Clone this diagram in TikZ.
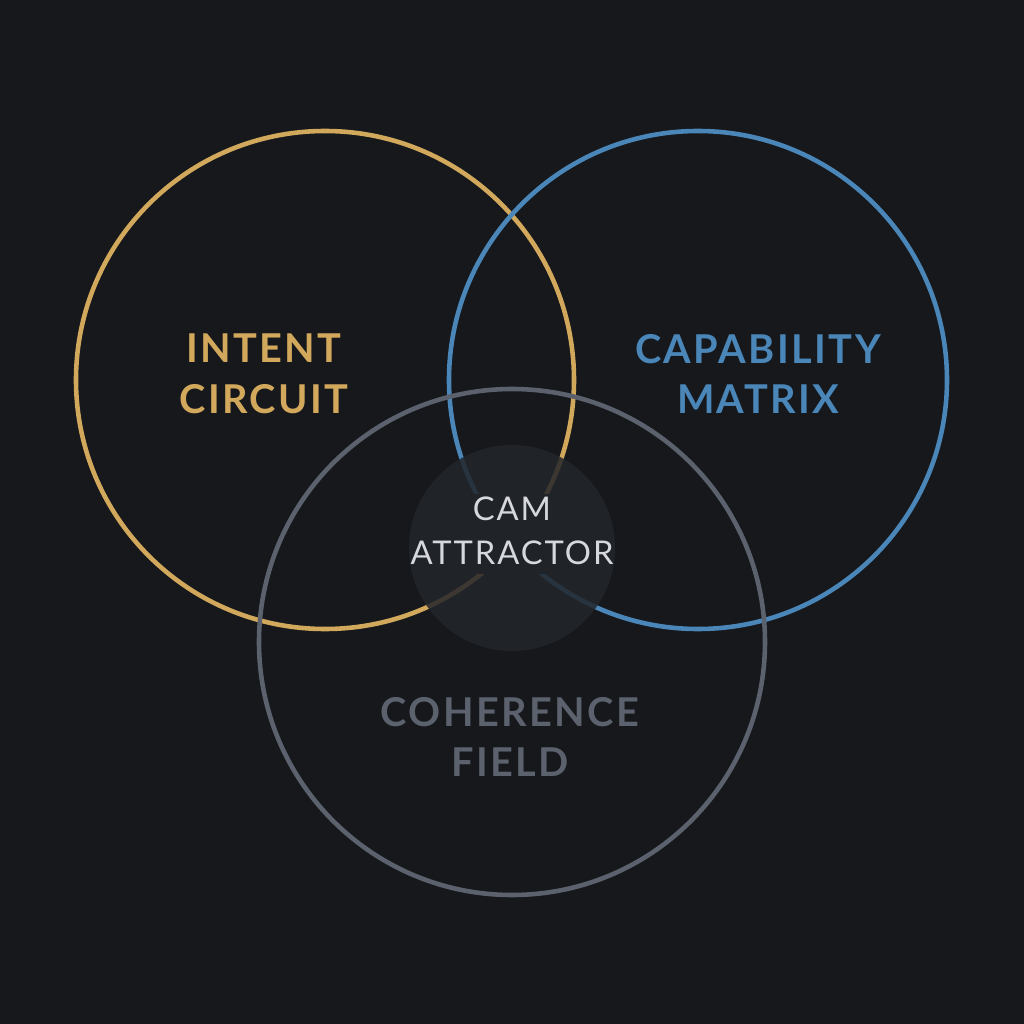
\documentclass[tikz,border=0pt]{standalone}
\usepackage{fontspec}
\setmainfont{Lato}[LetterSpace=6]
\usepackage{tikz}
\definecolor{bgdark}{HTML}{16181C}
\definecolor{intentgold}{HTML}{D2A95C}
\definecolor{capblue}{HTML}{4A86B8}
\definecolor{cohgray}{HTML}{5B626D}
\definecolor{camfill}{HTML}{22252A}
\definecolor{camblend}{HTML}{202328}
\definecolor{camtext}{HTML}{D6D8DC}

\begin{document}
\begin{tikzpicture}[
ring/.style={line width=1.3pt},
lbl/.style={align=center, font=\fontsize{11.3}{14.5}\selectfont\bfseries},
]
\fill[bgdark] (0,0) rectangle (10.24,10.24);
\useasboundingbox (0,0) rectangle (10.24,10.24);

\coordinate (ic) at (3.25,6.44);
\coordinate (cm) at (6.98,6.44);
\coordinate (cf) at (5.12,3.82);
\coordinate (ca) at (5.12,4.76);

\draw[ring, intentgold] (ic) circle (2.49);
\draw[ring, capblue] (cm) circle (2.49);
\draw[ring, cohgray] (cf) circle (2.53);
\fill[camfill, opacity=0.85] (ca) circle (1.03);
% mask the rings behind the centre label
\begin{scope}
\clip (ca) circle (1.03);
\fill[camblend] (4.05,4.5) rectangle (6.2,5.3);
\end{scope}

\node[lbl, intentgold] (intent) at (2.64,6.5) {INTENT\\CIRCUIT};
\node[lbl, capblue] (capab) at (7.58,6.5) {CAPABILITY\\MATRIX};
\node[lbl, cohgray] (coher) at (5.10,2.87) {COHERENCE\\FIELD};
\node[align=center, text=camtext,
  font=\fontsize{9.3}{12.5}\selectfont] (cam) at (5.12,4.93) {CAM\\ATTRACTOR};
\end{tikzpicture}
\end{document}
